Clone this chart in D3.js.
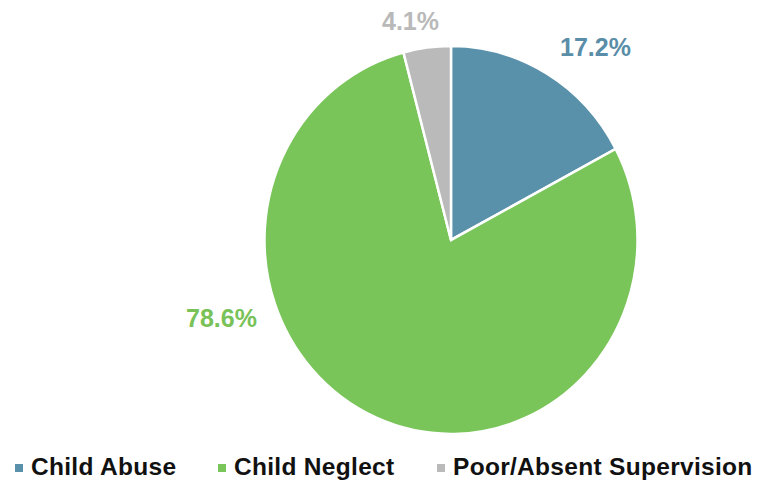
<!DOCTYPE html>
<html>
<head>
<meta charset="utf-8">
<script src="https://cdn.jsdelivr.net/npm/d3@7"></script>
<style>
  html, body { margin: 0; padding: 0; background: #ffffff; }
  svg { display: block; }
  text { font-family: "Liberation Sans", Arial, Helvetica, sans-serif; font-weight: bold; }
</style>
</head>
<body>
<svg id="chart" width="771" height="481"></svg>
<script>
const categories = ["Child Abuse", "Child Neglect", "Poor/Absent Supervision"];
const values = [17.2, 78.6, 4.1];
const valueLabels = ["17.2%", "78.6%", "4.1%"];
const colors = ["#5a91aa", "#79c55a", "#bababa"];
const labelColors = ["#5a8ea8", "#78c257", "#b9b9b9"];

const svg = d3.select("#chart");
const cx = 451, cy = 240, rx = 186.5, ry = 194;
const R = 190;

const data = categories.map((c, i) => ({ name: c, value: values[i], label: valueLabels[i], color: colors[i], lcolor: labelColors[i] }));

const pie = d3.pie().sort(null).value(d => d.value);
const arcs = pie(data);
const arc = d3.arc().innerRadius(0).outerRadius(R);

const g = svg.append("g")
  .attr("transform", `translate(${cx},${cy}) scale(${rx / R},${ry / R})`);

g.selectAll("path.slice")
  .data(arcs)
  .join("path")
  .attr("class", "slice")
  .attr("d", arc)
  .attr("fill", d => d.data.color)
  .attr("stroke", "#ffffff")
  .attr("stroke-width", 2.5)
  .attr("stroke-linejoin", "miter");

const labelPos = [
  { x: 560 - cx, y: 56 - cy },
  { x: 186 - cx, y: 327 - cy },
  { x: 382 - cx, y: 30 - cy }
];

svg.append("g")
  .selectAll("text")
  .data(arcs)
  .join("text")
  .attr("x", (d, i) => cx + labelPos[i].x)
  .attr("y", (d, i) => cy + labelPos[i].y)
  .attr("fill", d => d.data.lcolor)
  .attr("font-size", 25)
  .text(d => d.data.label);

const legendX = [15, 218, 437];
const items = svg.append("g").selectAll("g")
  .data(data)
  .join("g")
  .attr("transform", (d, i) => `translate(${legendX[i]},0)`);

items.append("rect")
  .attr("x", 0)
  .attr("y", 464)
  .attr("width", 8)
  .attr("height", 8)
  .attr("fill", d => d.color);

items.append("text")
  .attr("x", 16)
  .attr("y", 475)
  .attr("font-size", 24.5)
  .attr("letter-spacing", 0.3)
  .attr("fill", "#111111")
  .text(d => d.name);
</script>
</body>
</html>
